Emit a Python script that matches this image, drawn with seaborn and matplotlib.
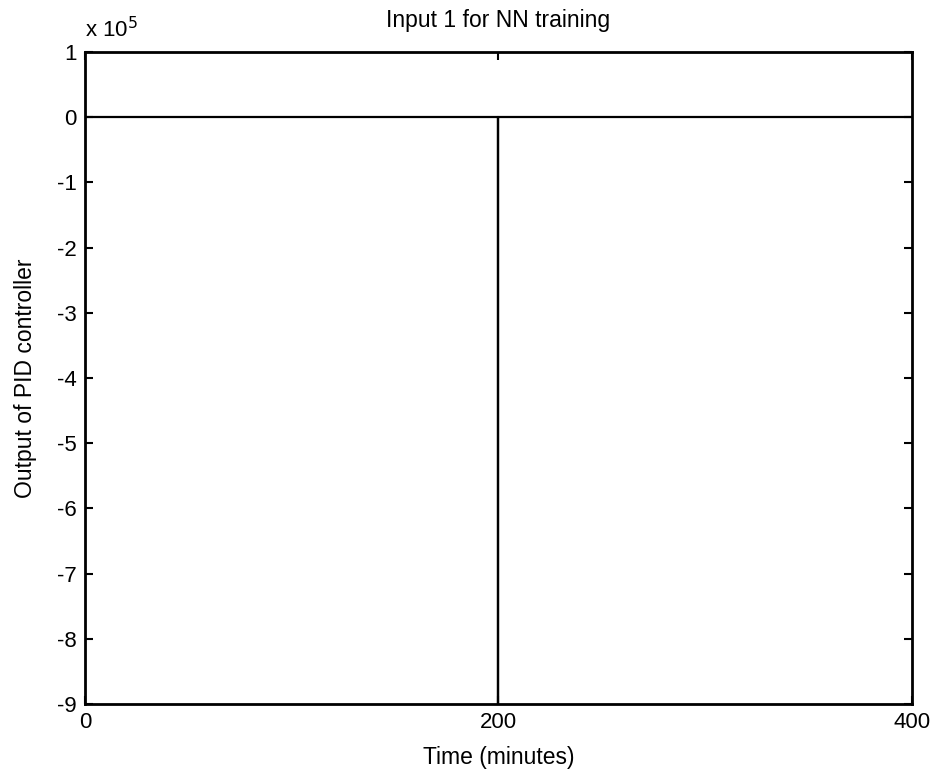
import matplotlib
matplotlib.use("Agg")
import matplotlib.pyplot as plt
import seaborn as sns
import numpy as np
from matplotlib.ticker import FuncFormatter, FixedLocator

# Data
time_min = [0, 200, 200, 200, 400]
pid_output = [0, 0, -900000, 0, 0]
x_ticks = [0, 200, 400]
y_ticks = [1e5, 0, -1e5, -2e5, -3e5, -4e5, -5e5, -6e5, -7e5, -8e5, -9e5]

sns.set_theme(style="white")
plt.rcParams['font.family'] = ['Liberation Sans', 'DejaVu Sans']
plt.rcParams['text.color'] = 'black'
plt.rcParams['axes.labelcolor'] = 'black'

fig = plt.figure(figsize=(9.37, 7.79), dpi=100)
ax = fig.add_axes([0.0907, 0.0963, 0.8826, 0.8369])

sns.lineplot(x=time_min, y=pid_output, estimator=None, sort=False,
             color="black", linewidth=1.6, ax=ax)

ax.set_xlim(0, 400)
ax.set_ylim(-9e5, 1e5)
ax.xaxis.set_major_locator(FixedLocator(x_ticks))
ax.yaxis.set_major_locator(FixedLocator(y_ticks))
ax.yaxis.set_major_formatter(FuncFormatter(lambda v, p: "0" if abs(v) < 1 else f"{v/1e5:g}"))

for s in ax.spines.values():
    s.set_color("black")
    s.set_linewidth(2)

ax.tick_params(axis="both", direction="in", length=6, width=1.5, colors="black",
               labelsize=16, top=True, right=True, bottom=True, left=True, pad=6)

ax.set_title("Input 1 for NN training", fontsize=16.5, pad=18, color="black")
ax.set_xlabel("Time (minutes)", fontsize=16.5, labelpad=9, color="black")
ax.set_ylabel("Output of PID controller", fontsize=16.5, labelpad=14, color="black")
ax.text(0.0, 1.015, r"x 10$^{5}$", transform=ax.transAxes, fontsize=16,
        ha="left", va="bottom", color="black")

fig.savefig("out.png", dpi=100, facecolor="white")
